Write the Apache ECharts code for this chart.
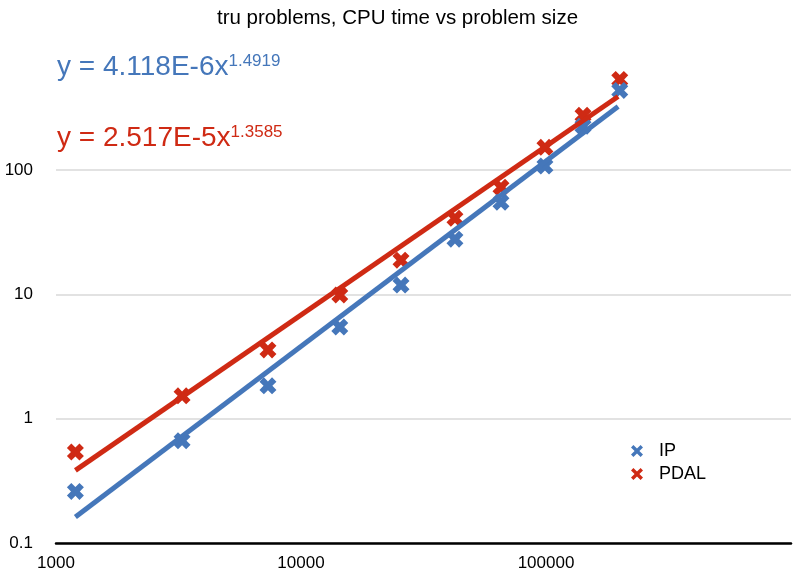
<!DOCTYPE html>
<html>
<head>
<meta charset="utf-8">
<script src="https://cdn.jsdelivr.net/npm/echarts@6/dist/echarts.min.js"></script>
<style>
  html, body { margin: 0; padding: 0; background: #fff; }
  #main { width: 795px; height: 576px; }
</style>
</head>
<body>
<div id="main"></div>
<script>
// problem sizes (x) and cpu time (y)
var sizes = [1200, 3270, 7330, 14400, 25600, 42500, 65500, 99000, 141600, 200000];
var ipTime = [0.26, 0.665, 1.84, 5.48, 11.9, 27.9, 55.3, 108, 226, 439];
var pdalTime = [0.54, 1.53, 3.58, 9.9, 18.9, 41.1, 73, 153, 277, 538];

// trendline end points (power fits, straight in log-log)
var fitX = [1200, 197000];
var ipFit = [0.162, 326];
var pdalFit = [0.384, 392];

var xTicks = [1000, 10000, 100000];
var yTicks = [0.1, 1, 10, 100];

var blue = '#4577ba';
var red = '#cf2a14';
var font = 'Liberation Sans, Arial, sans-serif';
// chunky cross marker
var xMark = 'path://M0,2.6 L2.6,0 L5,2.4 L7.4,0 L10,2.6 L7.6,5 L10,7.4 L7.4,10 L5,7.6 L2.6,10 L0,7.4 L2.4,5 Z';
var xIcon = 'path://M0,2 L2,0 L5,3 L8,0 L10,2 L7,5 L10,8 L8,10 L5,7 L2,10 L0,8 L3,5 Z';

function pairs(xs, ys) {
  var out = [];
  for (var i = 0; i < xs.length; i++) out.push([xs[i], ys[i]]);
  return out;
}

var chart = echarts.init(document.getElementById('main'));
chart.setOption({
  animation: false,
  textStyle: { fontFamily: font },
  title: {
    text: 'tru problems, CPU time vs problem size',
    left: 'center',
    top: 3,
    textStyle: { fontSize: 20.5, fontWeight: 'normal', color: '#000', fontFamily: font }
  },
  grid: { left: 56, right: 4, top: 46, bottom: 33 },
  legend: {
    data: ['IP', 'PDAL'],
    orient: 'vertical',
    left: 626,
    top: 437,
    itemWidth: 12,
    itemHeight: 12,
    itemGap: 5,
    icon: xIcon,
    textStyle: { fontSize: 18, color: '#000', padding: [0, 0, 0, 11] }
  },
  xAxis: {
    type: 'log',
    min: 1000,
    max: 1000000,
    axisLine: { show: true, lineStyle: { color: '#000', width: 2.5 } },
    axisTick: { show: false },
    splitLine: { show: false },
    axisLabel: {
      fontSize: 17, color: '#000', margin: 12, showMaxLabel: false,
      formatter: function (v) { return xTicks.indexOf(v) >= 0 ? String(v) : ''; }
    }
  },
  yAxis: {
    type: 'log',
    min: 0.1,
    max: 1000,
    axisLine: { show: false },
    axisTick: { show: false },
    splitLine: { show: true, showMaxLine: false, lineStyle: { color: '#d9d9d9', width: 1.5 } },
    axisLabel: {
      fontSize: 17, color: '#000', margin: 23, showMaxLabel: false,
      formatter: function (v) { return yTicks.indexOf(v) >= 0 ? String(v) : ''; }
    }
  },
  graphic: [
    {
      type: 'text', left: 57, top: 53,
      style: {
        text: '{a|y = 4.118E-6x}{s|1.4919}',
        rich: {
          a: { fontSize: 28, fill: blue, fontFamily: font },
          s: { fontSize: 17, fill: blue, verticalAlign: 'top', fontFamily: font }
        }
      }
    },
    {
      type: 'text', left: 57, top: 124,
      style: {
        text: '{a|y = 2.517E-5x}{s|1.3585}',
        rich: {
          a: { fontSize: 28, fill: red, fontFamily: font },
          s: { fontSize: 17, fill: red, verticalAlign: 'top', fontFamily: font }
        }
      }
    }
  ],
  series: [
    {
      name: 'IP fit', type: 'line', data: pairs(fitX, ipFit),
      symbol: 'none', lineStyle: { color: blue, width: 5 }, silent: true
    },
    {
      name: 'PDAL fit', type: 'line', data: pairs(fitX, pdalFit),
      symbol: 'none', lineStyle: { color: red, width: 5 }, silent: true
    },
    {
      name: 'PDAL', type: 'scatter', data: pairs(sizes, pdalTime),
      symbol: xMark, symbolSize: 17, itemStyle: { color: red, opacity: 1 }
    },
    {
      name: 'IP', type: 'scatter', data: pairs(sizes, ipTime),
      symbol: xMark, symbolSize: 17, itemStyle: { color: blue, opacity: 1 }
    }
  ]
});
</script>
</body>
</html>
